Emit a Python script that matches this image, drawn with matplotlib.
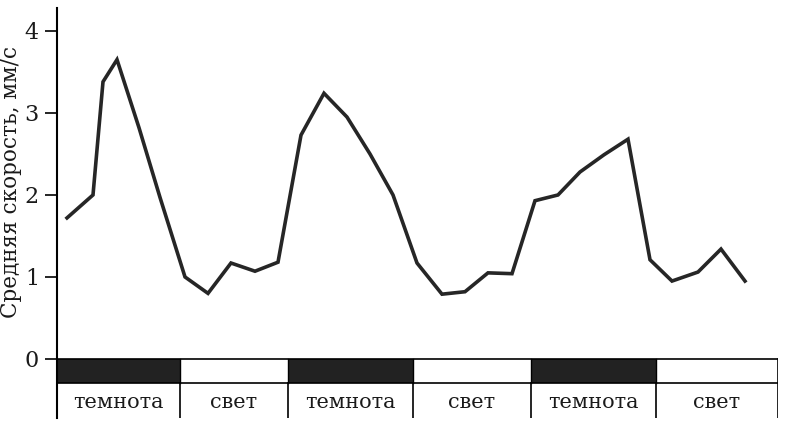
import matplotlib
matplotlib.use("Agg")
import matplotlib.pyplot as plt
from matplotlib.patches import Rectangle

# time (hours) and mean speed, mm/s
hours = [1.0, 3.6, 4.6, 6.0, 8.2, 10.3, 12.8, 15.1, 17.4, 19.8, 22.1,
         24.4, 26.7, 29.0, 31.3, 33.6, 36.0, 38.5, 40.8, 43.1, 45.5,
         47.8, 50.1, 52.3, 54.7, 57.1, 59.3, 61.5, 64.1, 66.4, 68.8]
speed = [1.72, 2.0, 3.38, 3.65, 2.82, 1.97, 1.0, 0.8, 1.17, 1.07, 1.18,
         2.73, 3.24, 2.95, 2.5, 2.0, 1.17, 0.79, 0.82, 1.05, 1.04,
         1.93, 2.0, 2.28, 2.49, 2.68, 1.21, 0.95, 1.06, 1.34, 0.95]

# light / dark periods
bounds = [0, 12.3, 23.1, 35.6, 47.4, 59.9, 72.1]
phases = ["темнота", "свет", "темнота", "свет", "темнота", "свет"]
yticks = [0, 1, 2, 3, 4]

strip_h = 0.29
row_h = 0.43

plt.rcParams["font.family"] = ["DejaVu Serif"]

fig = plt.figure(figsize=(7.86, 4.30), dpi=100)
ax = fig.add_axes([57 / 786, 12 / 430, 721 / 786, 410 / 430])

ax.plot(hours, speed, color="#262626", lw=2.6, solid_joinstyle="miter")

# strip with dark/light bars
for i, name in enumerate(phases):
    x0, x1 = bounds[i], bounds[i + 1]
    fc = "#222222" if name == "темнота" else "white"
    ax.add_patch(Rectangle((x0, -strip_h), x1 - x0, strip_h, facecolor=fc,
                           edgecolor="none", zorder=2))
    ax.text((x0 + x1) / 2, -strip_h - row_h * 0.55, name, ha="center",
            va="center", fontsize=15, color="#1a1a1a")
ax.axhline(0, color="black", lw=1.2, zorder=3)
ax.axhline(-strip_h, color="black", lw=1.2, zorder=3)
for b in bounds[1:]:
    top = 0 if b == bounds[-1] else -strip_h
    ax.plot([b, b], [-strip_h - row_h, top], color="black", lw=1.2, zorder=3)
for b in bounds[1:-1]:
    ax.plot([b, b], [-strip_h, 0], color="black", lw=1.0, zorder=3)

ax.set_xlim(bounds[0], bounds[-1])
ax.set_ylim(-strip_h - row_h, 4.28)
ax.set_yticks(yticks)
ax.set_yticklabels([str(t) for t in yticks], fontsize=16, color="#1a1a1a")
ax.tick_params(axis="y", length=9, width=1.2, direction="out", pad=4)
ax.set_xticks([])
for s in ["top", "right", "bottom"]:
    ax.spines[s].set_visible(False)
ax.spines["left"].set_linewidth(1.5)

fig.text(11 / 786, 1 - 182 / 430, "Средняя скорость, мм/с", rotation=90,
         ha="center", va="center", fontsize=15.5, color="#1a1a1a")

fig.savefig("out.png", dpi=100)
